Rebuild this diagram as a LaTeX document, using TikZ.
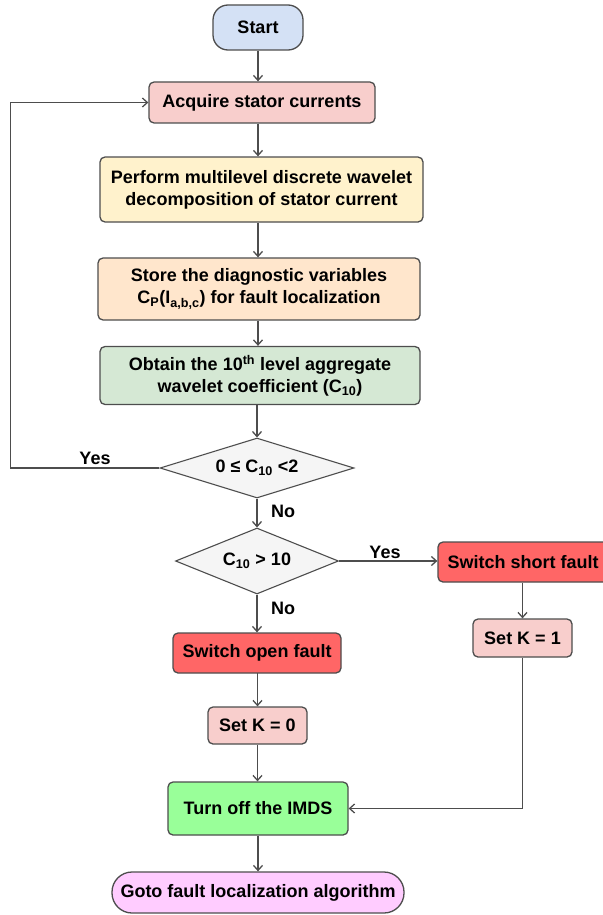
\documentclass[tikz,border=0pt]{standalone}
\usepackage{fontspec}
\setmainfont{Liberation Sans}
\usetikzlibrary{shapes.geometric,arrows.meta}
\definecolor{lineC}{HTML}{4D4D4D}
\definecolor{cStart}{HTML}{D4E1F5}
\definecolor{cAcq}{HTML}{F8CECC}
\definecolor{cPerf}{HTML}{FFF2CC}
\definecolor{cStore}{HTML}{FFE6CC}
\definecolor{cObt}{HTML}{D5E8D4}
\definecolor{cDec}{HTML}{F5F5F5}
\definecolor{cFault}{HTML}{FF6666}
\definecolor{cSetK}{HTML}{F8CECC}
\definecolor{cOff}{HTML}{99FF99}
\definecolor{cGoto}{HTML}{FFCCFF}
\newcommand{\fs}{\fontsize{18}{22}\selectfont\bfseries}
\begin{document}
\begin{tikzpicture}[x=1pt,y=-1pt,
  box/.style={draw=lineC, line width=1.3pt, rounded corners=5pt, align=center, font=\fs, inner sep=2pt},
  dec/.style={draw=lineC, line width=1.1pt, shape=diamond, fill=cDec, inner sep=0pt, font=\fs},
  arr/.style={draw=lineC, line width=1.3pt, -{Straight Barb[length=5pt,width=9pt]}},
  lbl/.style={font=\fs, text=black}]
\useasboundingbox (0,0) rectangle (602,915);

\node[box, fill=cStart, rounded corners=15pt, minimum width=90pt, minimum height=45pt] (start) at (258,27.5) {Start};
\node[box, fill=cAcq, minimum width=226pt, minimum height=41pt] (acq) at (262,102.5) {Acquire stator currents};
\node[box, fill=cPerf, minimum width=323pt, minimum height=65pt] (perf) at (261.5,189.5) {Perform multilevel discrete wavelet\\decomposition of stator current};
\node[box, fill=cStore, minimum width=322pt, minimum height=62pt] (store) at (259,289) {Store the diagnostic variables\\C\textsubscript{P}(I\textsubscript{a,b,c}) for fault localization};
\node[box, fill=cObt, minimum width=320pt, minimum height=58pt] (obt) at (260,375.5) {Obtain the 10\textsuperscript{th} level aggregate\\wavelet coefficient (C\textsubscript{10})};
\node[dec, aspect=3.23, minimum width=194pt, minimum height=60pt] (d1) at (257,468) {0 ≤ C\textsubscript{10} <2};
\node[dec, aspect=2.47, minimum width=163pt, minimum height=66pt] (d2) at (257,561) {C\textsubscript{10} > 10};
\node[box, fill=cFault, minimum width=170pt, minimum height=40pt] (sshort) at (523,562) {Switch short fault};
\node[box, fill=cSetK, minimum width=99pt, minimum height=38pt] (k1) at (522.5,638) {Set K = 1};
\node[box, fill=cFault, minimum width=168pt, minimum height=40pt] (sopen) at (257,653) {Switch open fault};
\node[box, fill=cSetK, minimum width=99pt, minimum height=37pt] (k0) at (257.5,725.5) {Set K = 0};
\node[box, fill=cOff, minimum width=180pt, minimum height=53pt] (off) at (258,808.5) {Turn off the IMDS};
\node[box, fill=cGoto, rounded corners=20pt, minimum width=292pt, minimum height=41pt] (goto) at (258,892.5) {Goto fault localization algorithm};

\draw[arr] (start.south) -- (start.south |- acq.north);
\draw[arr] (acq.south -| start.south) -- (start.south |- perf.north);
\draw[arr] (perf.south -| start.south) -- (start.south |- store.north);
\draw[arr] (store.south -| start.south) -- (start.south |- obt.north);
\draw[arr] (obt.south -| d1.north) -- (d1.north);
\draw[arr] (d1.west) -- ++(-149,0) |- (acq.west);
\draw[arr] (d1.south) -- (d2.north);
\draw[arr] (d2.east) -- (d2.east -| sshort.west);
\draw[arr] (d2.south) -- (sopen.north);
\draw[arr] (sshort.south -| k1.north) -- (k1.north);
\draw[arr] (sopen.south) -- (sopen.south -| k0.north) -- (k0.north);
\draw[arr] (k0.south) -- (k0.south |- off.north);
\draw[arr] (k1.south) |- (off.east);
\draw[arr] (off.south) -- (off.south |- goto.north);

\node[lbl] (yes1) at (95,458) {Yes};
\node[lbl] (no1) at (283,511) {No};
\node[lbl] (yes2) at (385,552) {Yes};
\node[lbl] (no2) at (283,608) {No};
\end{tikzpicture}
\end{document}
